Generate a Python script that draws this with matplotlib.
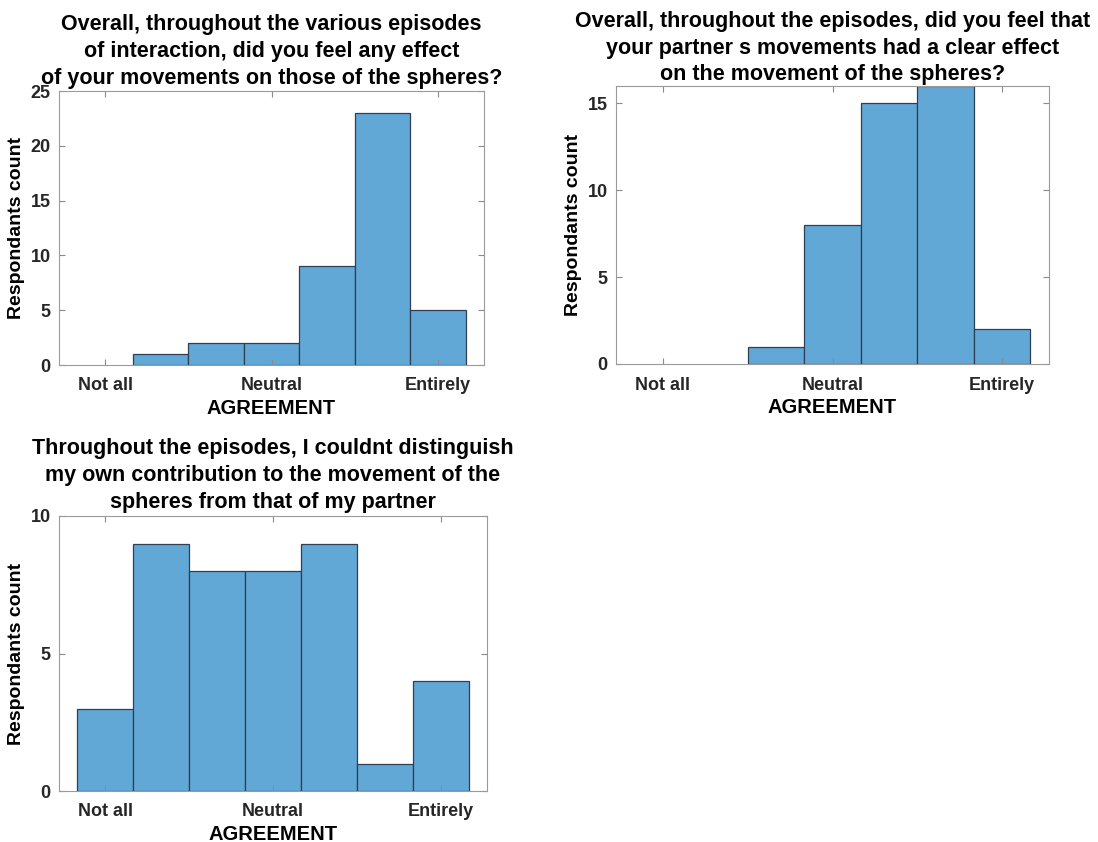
import numpy as np
import matplotlib
matplotlib.use('Agg')
import matplotlib.pyplot as plt

plt.rcParams['font.family'] = ['Liberation Sans', 'DejaVu Sans']
plt.rcParams['font.weight'] = 'bold'

# 7-point agreement scale
levels = [1, 2, 3, 4, 5, 6, 7]
tick_pos = [1, 4, 7]
tick_labels = ['Not all', 'Neutral', 'Entirely']

# respondent counts per level
counts_own = [0, 1, 2, 2, 9, 23, 5]
counts_partner = [0, 0, 1, 8, 15, 16, 2]
counts_distinguish = [3, 9, 8, 8, 9, 1, 4]

title_own = ('Overall, throughout the various episodes\n'
             'of interaction, did you feel any effect\n'
             'of your movements on those of the spheres?')
title_partner = ('Overall, throughout the episodes, did you feel that\n'
                 'your partner s movements had a clear effect\n'
                 'on the movement of the spheres?')
title_distinguish = ('Throughout the episodes, I couldnt distinguish\n'
                     'my own contribution to the movement of the\n'
                     'spheres from that of my partner')

bar_color = '#62a8d6'
edge_color = '#2e3f55'

W, H = 1098, 842
fig = plt.figure(figsize=(W / 100, H / 100), dpi=100)


def px_axes(left, top, right, bottom):
    # axes box given in pixel coords of the figure
    return fig.add_axes([left / W, (H - bottom) / H, (right - left) / W, (bottom - top) / H])


def draw_hist(ax, counts, title, ymax, yticks, tpad):
    x = [l for l, c in zip(levels, counts) if c > 0]
    h = [c for c in counts if c > 0]
    ax.bar(x, h, width=1.0, color=bar_color, edgecolor=edge_color, linewidth=0.9)
    ax.set_xlim(0.17, 7.83)
    ax.set_ylim(0, ymax)
    ax.set_xticks(tick_pos)
    ax.set_xticklabels(tick_labels, fontsize=13, fontweight='bold', color='#262626')
    ax.set_yticks(yticks)
    ax.set_yticklabels([str(t) for t in yticks], fontsize=13, fontweight='bold', color='#262626')
    ax.tick_params(axis='x', direction='in', top=True, length=4, width=0.8, color='#8a8a8a', pad=9)
    ax.tick_params(axis='y', direction='in', right=True, length=4, width=0.8, color='#8a8a8a', pad=6)
    for s in ax.spines.values():
        s.set_color('#9a9a9a')
        s.set_linewidth(0.8)
    ax.set_xlabel('AGREEMENT', fontsize=14.5, fontweight='bold', labelpad=3)
    ax.set_ylabel('Respondants count', fontsize=14, fontweight='bold', labelpad=4)
    ax.set_title(title, fontsize=15.5, fontweight='bold', pad=tpad, linespacing=1.37)


ax1 = px_axes(59, 91, 484, 365)
draw_hist(ax1, counts_own, title_own, 25, [0, 5, 10, 15, 20, 25], 5)

ax2 = px_axes(616, 86, 1049, 364)
draw_hist(ax2, counts_partner, title_partner, 16, [0, 5, 10, 15], 4)

ax3 = px_axes(59, 516, 487, 791)
draw_hist(ax3, counts_distinguish, title_distinguish, 10, [0, 5, 10], 6)

fig.savefig('out.png', dpi=100)
